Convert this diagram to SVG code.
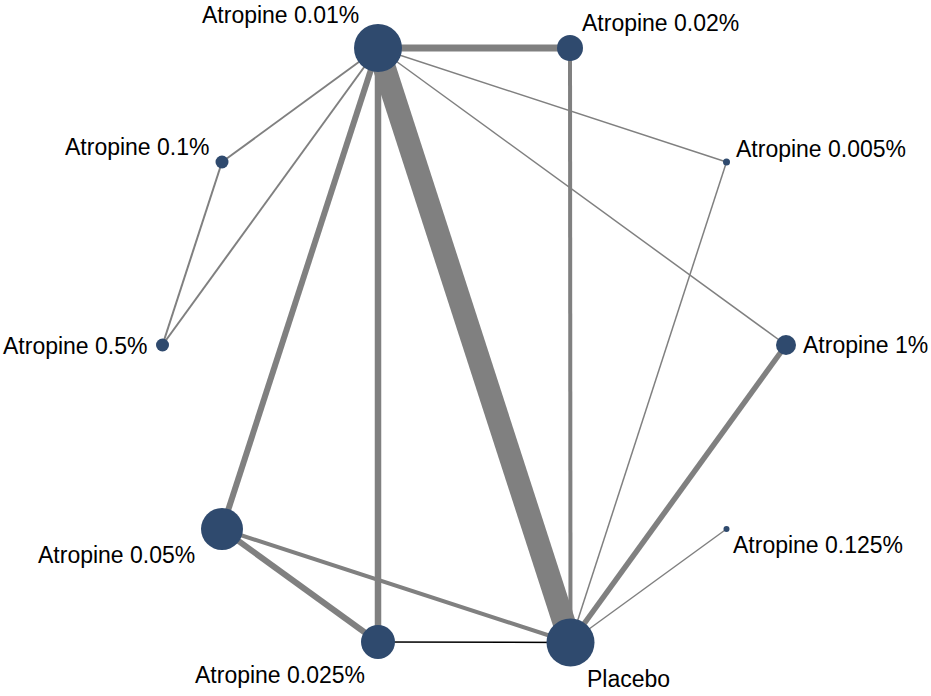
<svg xmlns="http://www.w3.org/2000/svg" width="931" height="696" viewBox="0 0 931 696">
<style>
.e{stroke:#808080;fill:none;stroke-linecap:butt}
.n{fill:#2F4A6E}
.t{font-family:"Liberation Sans",Arial,sans-serif;font-size:23px;fill:#000}
</style>
<rect width="931" height="696" fill="#fff"/>
<g id="edges">
<line class="e" x1="378" y1="48" x2="570" y2="48" stroke-width="7"/>
<line class="e" x1="378" y1="48" x2="570.5" y2="642.5" stroke-width="23"/>
<line class="e" x1="378" y1="48" x2="378" y2="642" stroke-width="6.5"/>
<line class="e" x1="378" y1="48" x2="222" y2="529" stroke-width="6"/>
<line class="e" x1="570" y1="48" x2="570.5" y2="642.5" stroke-width="4"/>
<line class="e" x1="378" y1="48" x2="222" y2="162" stroke-width="2"/>
<line class="e" x1="378" y1="48" x2="162.5" y2="345" stroke-width="2"/>
<line class="e" x1="222" y1="162" x2="162.5" y2="345" stroke-width="2"/>
<line class="e" x1="378" y1="48" x2="726.5" y2="162" stroke-width="1.5"/>
<line class="e" x1="378" y1="48" x2="786" y2="345" stroke-width="1.5"/>
<line class="e" x1="726.5" y1="162" x2="570.5" y2="642.5" stroke-width="1.5"/>
<line class="e" x1="786" y1="345" x2="570.5" y2="642.5" stroke-width="5.5"/>
<line class="e" x1="726.5" y1="529" x2="570.5" y2="642.5" stroke-width="1.5"/>
<line class="e" x1="222" y1="529" x2="378" y2="642" stroke-width="6"/>
<line class="e" x1="222" y1="529" x2="570.5" y2="642.5" stroke-width="4"/>
<line x1="378" y1="642" x2="570.5" y2="642.5" stroke="#000" stroke-width="1.5"/>
</g>
<g id="n001"><circle class="n" cx="378" cy="48" r="24"/><text class="t" x="202" y="23">Atropine 0.01%</text></g>
<g id="n002"><circle class="n" cx="570" cy="48" r="13"/><text class="t" x="582" y="31">Atropine 0.02%</text></g>
<g id="n01"><circle class="n" cx="222" cy="162" r="6.5"/><text class="t" x="65" y="155">Atropine 0.1%</text></g>
<g id="n0005"><circle class="n" cx="726.5" cy="162" r="3.5"/><text class="t" x="736" y="157">Atropine 0.005%</text></g>
<g id="n05"><circle class="n" cx="162.5" cy="345" r="6.5"/><text class="t" x="3" y="354">Atropine 0.5%</text></g>
<g id="n1"><circle class="n" cx="786" cy="345" r="10"/><text class="t" x="803" y="353">Atropine 1%</text></g>
<g id="n005"><circle class="n" cx="222" cy="529" r="21"/><text class="t" x="38" y="563">Atropine 0.05%</text></g>
<g id="n0125"><circle class="n" cx="726.5" cy="529" r="3"/><text class="t" x="733" y="553">Atropine 0.125%</text></g>
<g id="n0025"><circle class="n" cx="378" cy="642" r="17"/><text class="t" x="195" y="683">Atropine 0.025%</text></g>
<g id="placebo"><circle class="n" cx="570.5" cy="642.5" r="24"/><text class="t" x="587" y="687">Placebo</text></g>
</svg>
